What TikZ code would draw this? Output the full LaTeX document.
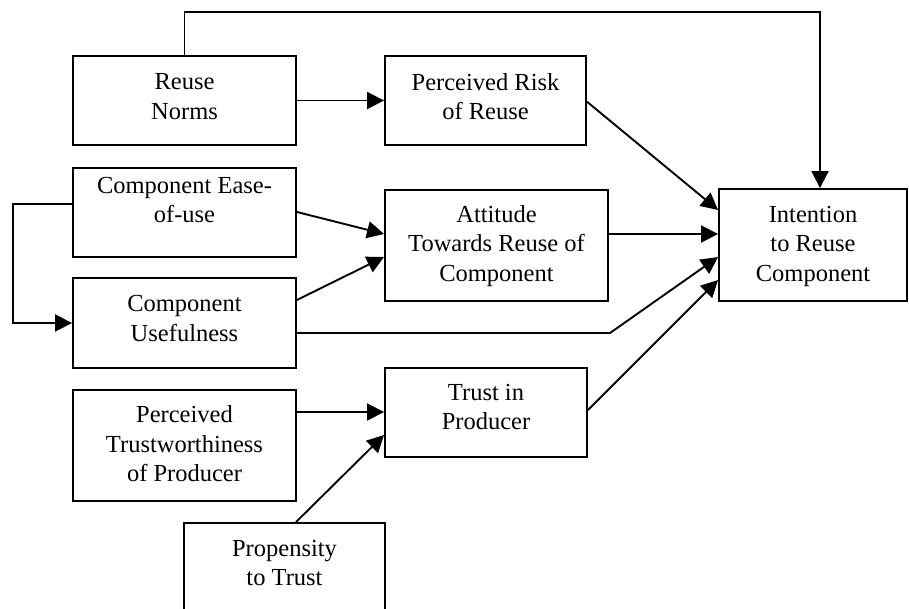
\documentclass[tikz,border=0pt]{standalone}
\usepackage{fontspec}
\setmainfont{Liberation Serif}
\usetikzlibrary{arrows.meta,calc}
\begin{document}
\begin{tikzpicture}[x=1pt,y=-1pt,
  box/.style={draw,line width=1.9pt,rectangle,inner sep=0pt},
  txt/.style={inner sep=0pt,align=center,font=\fontsize{24.5}{29.5}\selectfont},
  arr/.style={line width=1.9pt,-{Triangle[length=17pt,width=17pt]}},
  ln/.style={line width=1.9pt}]
\useasboundingbox (0,0) rectangle (909,609);
\clip (0,0) rectangle (909,609);
% boxes
\node[box,minimum width=223,minimum height=89] (norms) at (184.5,100.5) {};
\node[box,minimum width=201,minimum height=89] (risk) at (485.5,100.5) {};
\node[box,minimum width=223,minimum height=89] (ease) at (184.5,212.5) {};
\node[box,minimum width=223,minimum height=90] (useful) at (184.5,323) {};
\node[box,minimum width=223,minimum height=111] (att) at (496.5,245.5) {};
\node[box,minimum width=188,minimum height=112] (int) at (813,245) {};
\node[box,minimum width=223,minimum height=111] (ptw) at (184.5,445.5) {};
\node[box,minimum width=202,minimum height=89] (trust) at (486,412.5) {};
\node[box,minimum width=201,minimum height=160] (prop) at (284.5,603) {};
% texts
\node[txt] (normsT) at (184.5,96.5) {Reuse\\Norms};
\node[txt] (riskT) at (485.5,96.5) {Perceived Risk\\of Reuse};
\node[txt] (easeT) at (184.5,200) {Component Ease-\\of-use};
\node[txt] (usefulT) at (184.5,318.5) {Component\\Usefulness};
\node[txt] (attT) at (496.5,246) {Attitude\\Towards Reuse of\\Component};
\node[txt] (intT) at (813,246) {Intention\\to Reuse\\Component};
\node[txt] (ptwT) at (184.5,444) {Perceived\\Trustworthiness\\of Producer};
\node[txt] (trustT) at (486,407) {Trust in\\Producer};
\node[txt] (propT) at (284.5,563) {Propensity\\to Trust};
% connectors
\coordinate (bendU) at (610,333);
\coordinate (loopL) at (13,204);
\draw[arr] (norms.north) -- (norms.north |- 0,12) -| ($(int.north)+(7,0)$);
\draw[arr] (norms.east) -- (risk.west);
\draw[arr] (risk.east |- 0,101.7) -- (int.west |- 0,210);
\draw[arr] (att.east |- 0,234) -- (int.west |- 0,234);
\draw[arr] (useful.east |- 0,333) -- (bendU) -- (int.west |- 0,257);
\draw[arr] (trust.east |- 0,410) -- (int.west |- 0,280);
\draw[arr] (ease.east |- 0,212) -- (att.west |- 0,234);
\draw[arr] (useful.east |- 0,300) -- (att.west |- 0,257);
\draw[arr] (ease.west |- 0,204) -- (loopL) |- (useful.west);
\draw[arr] (ptw.east |- 0,412) -- (trust.west |- 0,412);
\draw[arr] (prop.north -| 296,0) -- (trust.west |- 0,435);
\end{tikzpicture}
\end{document}
